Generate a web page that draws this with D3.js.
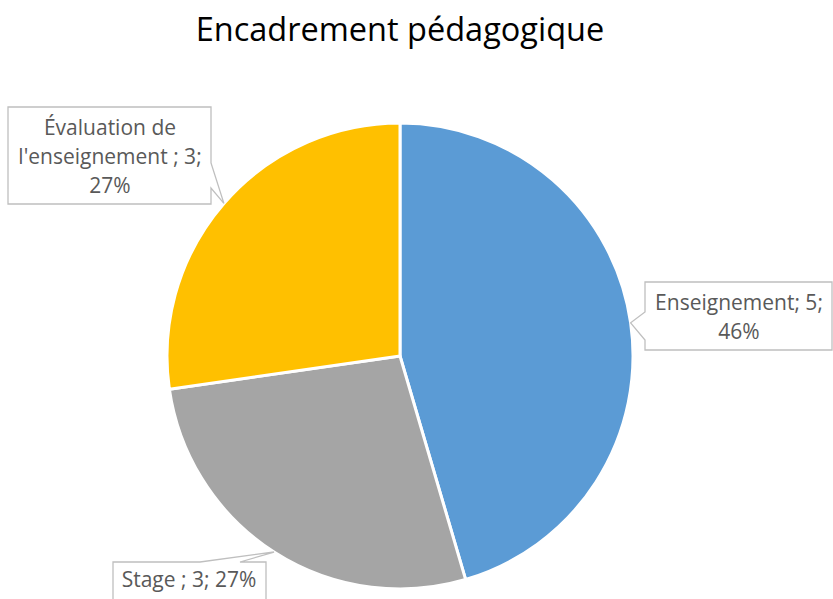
<!DOCTYPE html>
<html><head><meta charset="utf-8">
<script src="https://cdn.jsdelivr.net/npm/d3@7"></script>
<style>body{margin:0;background:#fff}svg{display:block}</style>
</head><body>
<svg id="c" width="833" height="599"></svg>
<script>
const title = "Encadrement pédagogique";
const categories = ["Enseignement", "Stage", "Évaluation de l'enseignement"];
const values = [5, 3, 3];
const percentLabels = ["46%", "27%", "27%"];
const labelLines = [
  ["Enseignement; 5;", "46%"],
  ["Stage ; 3; 27%"],
  ["Évaluation de", "l'enseignement ; 3;", "27%"]
];
const colors = ["#5B9BD5", "#A5A5A5", "#FFC000"];

const svg = d3.select("#c");
const W = 833, H = 599;
const cx = 400, cy = 356, R = 233;
const font = "'Open Sans', sans-serif";

svg.append("text").attr("x", 400).attr("y", 41).attr("text-anchor", "middle")
  .attr("font-family", font).attr("font-size", 32.5).attr("fill", "#000").text(title);

const pie = d3.pie().sort(null).value(d => d)(values);
const arc = d3.arc().innerRadius(0).outerRadius(R);
const g = svg.append("g").attr("transform", `translate(${cx},${cy})`);
g.selectAll("path").data(pie).join("path")
  .attr("d", arc).attr("fill", (d, i) => colors[i])
  .attr("stroke", "#fff").attr("stroke-width", 3).attr("stroke-linejoin", "round");

// callout boxes (layout)
const boxes = [
  {x: 645, y: 282, w: 187, h: 68, side: "left", b0: 30, b1: 58, cxText: 739, y0: 310},
  {x: 113, y: 562, w: 153, h: 40, side: "top", b0: 87, b1: 127, cxText: 189, y0: 587},
  {x: 8, y: 107, w: 203, h: 97, side: "right", b0: 56, b1: 81, cxText: 110, y0: 135}
];
const lh = 29;
pie.forEach((d, i) => {
  const a = (d.startAngle + d.endAngle) / 2;
  const tx = cx + R * Math.sin(a), ty = cy - R * Math.cos(a);
  const b = boxes[i];
  let p;
  const x0 = b.x, y0 = b.y, x1 = b.x + b.w, y1 = b.y + b.h;
  if (b.side === "left") {
    p = `M${x0},${y0}H${x1}V${y1}H${x0}V${y0 + b.b1}L${tx},${ty}L${x0},${y0 + b.b0}Z`;
  } else if (b.side === "right") {
    p = `M${x0},${y0}H${x1}V${y0 + b.b0}L${tx},${ty}L${x1},${y0 + b.b1}V${y1}H${x0}Z`;
  } else {
    p = `M${x0},${y0}H${x0 + b.b0}L${tx},${ty}L${x0 + b.b1},${y0}H${x1}V${y1}H${x0}Z`;
  }
  svg.append("path").attr("d", p).attr("fill", "#fff")
    .attr("stroke", "#BFBFBF").attr("stroke-width", 1.3);
  const t = svg.append("text").attr("font-family", font).attr("font-size", 21)
    .attr("fill", "#595959").attr("text-anchor", "middle");
  labelLines[i].forEach((ln, k) => {
    t.append("tspan").attr("x", b.cxText).attr("y", b.y0 + k * lh).text(ln);
  });
});
</script>
</body></html>
